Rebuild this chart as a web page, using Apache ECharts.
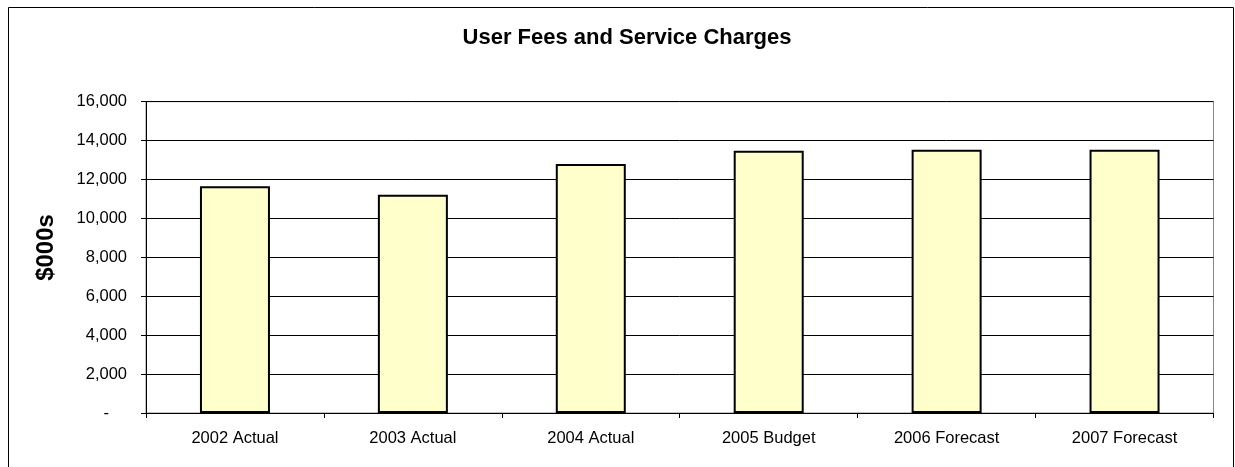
<!DOCTYPE html>
<html>
<head>
<meta charset="utf-8">
<title>User Fees and Service Charges</title>
<script src="https://cdn.jsdelivr.net/npm/echarts@6/dist/echarts.min.js"></script>
<style>
  html, body { margin: 0; padding: 0; background: #fff; }
  #chart { width: 1235px; height: 467px; }
</style>
</head>
<body>
<div id="chart"></div>
<script>
// Categories and values ($000s)
const categories = ['2002 Actual', '2003 Actual', '2004 Actual', '2005 Budget', '2006 Forecast', '2007 Forecast'];
const fees = [11650, 11220, 12800, 13480, 13530, 13530];
const yTicks = [0, 2000, 4000, 6000, 8000, 10000, 12000, 14000, 16000];

const chartTitle = 'User Fees and Service Charges';
const yTitle = '$000s';
const FONT = 'Arial, "Liberation Sans", sans-serif';

const chart = echarts.init(document.getElementById('chart'), null, { renderer: 'canvas' });

chart.setOption({
  backgroundColor: '#ffffff',
  animation: false,
  title: {
    text: chartTitle,
    left: 622,
    top: 22,
    textAlign: 'center',
    textStyle: { fontFamily: FONT, fontWeight: 'bold', fontSize: 22, color: '#000' }
  },
  grid: {
    left: 146, right: 21.5, top: 101.7, bottom: 54,
    show: true, borderColor: '#888', borderWidth: 1
  },
  xAxis: {
    type: 'category',
    data: categories,
    axisLine: { lineStyle: { color: '#000', width: 1 } },
    axisTick: { show: true, length: 5, inside: false, lineStyle: { color: '#000' } },
    axisLabel: { fontFamily: FONT, fontSize: 16.5, color: '#000', margin: 17 }
  },
  yAxis: {
    type: 'value',
    min: yTicks[0],
    max: yTicks[yTicks.length - 1],
    interval: yTicks[1] - yTicks[0],
    axisLine: { show: true, lineStyle: { color: '#000', width: 1 } },
    axisTick: { show: true, length: 5, inside: false, lineStyle: { color: '#000' } },
    splitLine: { show: true, lineStyle: { color: '#000', width: 1 } },
    axisLabel: {
      fontFamily: FONT, fontSize: 16.5, color: '#000', margin: 19,
      formatter: v => v === 0 ? '{z|-}' : v.toLocaleString('en-US'),
      rich: { z: { fontFamily: FONT, fontSize: 16.5, color: '#000', padding: [0, 18, 0, 0] } }
    }
  },
  series: [{
    type: 'bar',
    data: fees,
    barWidth: 70,
    itemStyle: { color: '#FFFFCC', borderColor: '#000', borderWidth: 2 }
  }],
  graphic: [
    {
      type: 'rect',
      shape: { x: 8.5, y: 7.5, width: 1225, height: 480 },
      style: { fill: 'none', stroke: '#000', lineWidth: 1 },
      silent: true
    },
    {
      type: 'text',
      x: 46, y: 247.5,
      rotation: Math.PI / 2,
      style: {
        text: yTitle, font: 'bold 24px ' + FONT, fill: '#000',
        textAlign: 'center', textVerticalAlign: 'middle'
      },
      silent: true
    }
  ]
});
</script>
</body>
</html>
